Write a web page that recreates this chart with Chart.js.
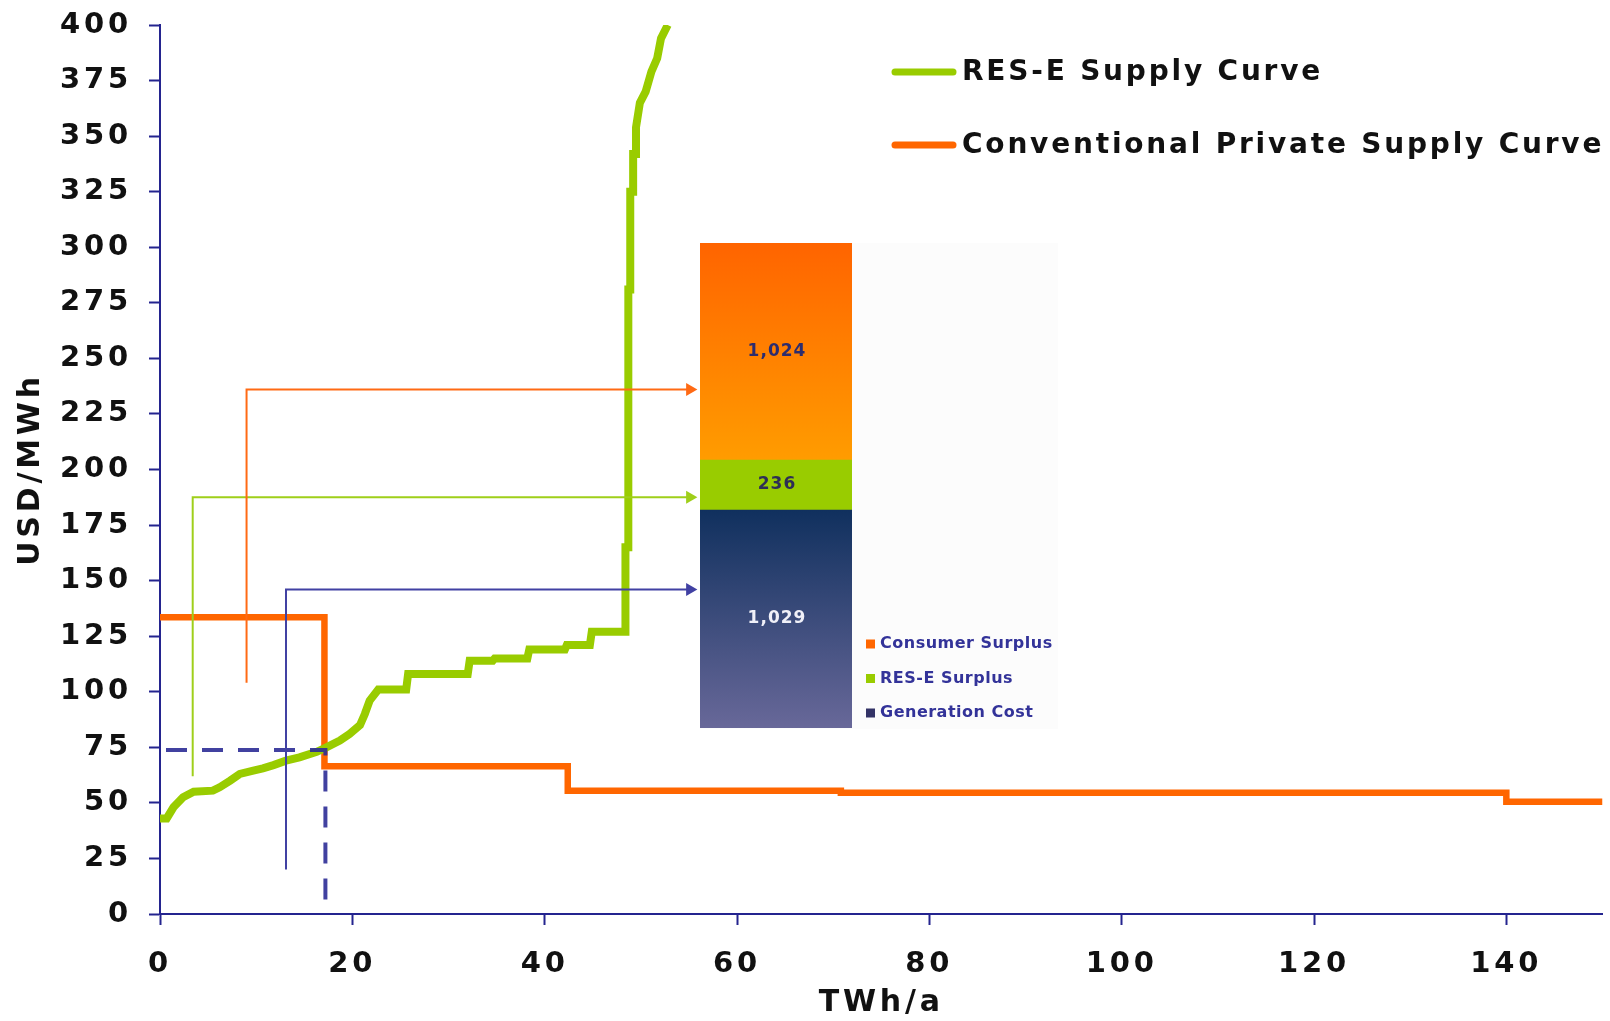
<!DOCTYPE html>
<html>
<head>
<meta charset="utf-8">
<title>RES-E and conventional supply curves</title>
<script src="https://cdn.jsdelivr.net/npm/chart.js@4.4.1/dist/chart.umd.min.js"></script>
<style>
  html, body { margin: 0; padding: 0; background: #ffffff; }
  #wrap { position: relative; width: 1610px; height: 1021px; overflow: hidden; }
  #main { position: absolute; left: 0; top: 0; }
  #inset { position: absolute; left: 700px; top: 243px; background: #fcfcfc; }
</style>
</head>
<body>
<div id="wrap">
  <canvas id="main" width="1610" height="1021"></canvas>
  <canvas id="inset" width="358" height="486"></canvas>
</div>
<script>
// ---- data ---------------------------------------------------------------
// RES-E supply curve: cumulative potential (TWh/a) against cost (USD/MWh)
const resX = [0, 0.7, 1.4, 2.4, 3.5, 5.5, 6.2, 7.3, 8.3, 9.7, 10.7, 11.8, 13.1, 14.5, 16.3, 17.3,
              18.7, 19.7, 20.8, 21.3, 21.8, 22.7, 25.6, 25.8, 32.0, 32.2, 34.6, 34.8, 38.2, 38.4,
              42.1, 42.3, 44.7, 44.9, 48.4, 48.4, 48.7, 48.7, 48.9, 48.9, 49.2, 49.2, 49.5, 49.5,
              49.9, 50.5, 51.1, 51.7, 52.1, 52.8];
const resY = [43, 43, 48, 52.5, 55, 55.5, 57, 60, 63, 64.5, 65.5, 67, 69, 70.5, 73, 75,
              78, 81, 85, 90, 96, 101, 101, 108, 108, 114, 114, 115, 115, 119,
              119, 121, 121, 127, 127, 165, 165, 281, 281, 325, 325, 342, 342, 354,
              365, 370, 379, 385, 394, 400];

// Conventional private supply curve: each price holds until the next breakpoint
const convX = [0, 17.1, 42.4, 70.8, 140, 150];
const convY = [133.5, 66.5, 55.5, 54.5, 50.5, 50.5];

// Market clearing point of the two curves
const clearingX = 17.2;
const clearingY = 73.8;

// Leader lines from the curve areas to the summary bar (TWh/a, USD/MWh)
const leaderConsumerX = [9.0, 9.0, 55.1];
const leaderConsumerY = [104, 236, 236];
const leaderResX = [3.4, 3.4, 55.1];
const leaderResY = [62, 187.5, 187.5];
const leaderCostX = [13.1, 13.1, 55.1];
const leaderCostY = [20, 146, 146];

// Axis ticks
const xTickValues = [0, 20, 40, 60, 80, 100, 120, 140];
const yTickValues = [0, 25, 50, 75, 100, 125, 150, 175, 200, 225, 250, 275, 300, 325, 350, 375, 400];
const xMax = 150;
const yMax = 400;

// Summary bar (stack order, bottom to top)
const surplusLabels = ['Generation Cost', 'RES-E Surplus', 'Consumer Surplus'];
const surplusValues = [1029, 236, 1024];

// ---- styling ------------------------------------------------------------
const FONT = '"DejaVu Sans", "Liberation Sans", sans-serif';
const NAVY = '#24248f';
const toPoints = (xs, ys) => xs.map((x, i) => ({ x: x, y: ys[i] }));

// canvas letter spacing for the axis texts
const letterSpacingPlugin = {
  id: 'letterSpacing',
  beforeUpdate(chart, args, opts) { chart.ctx.letterSpacing = opts.value; },
  beforeDraw(chart, args, opts) { chart.ctx.letterSpacing = opts.value; }
};

// line-sample legend drawn inside the plot area, top right
const curveLegendPlugin = {
  id: 'curveLegend',
  afterDraw(chart, args, opts) {
    const ctx = chart.ctx;
    ctx.save();
    ctx.font = opts.font;
    ctx.letterSpacing = opts.letterSpacing;
    ctx.textAlign = 'left';
    ctx.textBaseline = 'middle';
    ctx.fillStyle = opts.color;
    opts.items.forEach((dsIndex, row) => {
      const ds = chart.data.datasets[dsIndex];
      const y = opts.top + row * opts.rowGap;
      ctx.strokeStyle = ds.borderColor;
      ctx.lineWidth = opts.lineWidth;
      ctx.lineCap = 'round';
      ctx.setLineDash([]);
      ctx.beginPath();
      ctx.moveTo(opts.x, y);
      ctx.lineTo(opts.x + opts.sampleWidth, y);
      ctx.stroke();
      ctx.fillText(ds.label, opts.x + opts.sampleWidth + opts.gap, y + opts.textDy);
    });
    ctx.restore();
  }
};

const leader = (xs, ys, color) => ({
  label: '',
  data: toPoints(xs, ys),
  borderColor: color,
  backgroundColor: color,
  borderWidth: 2,
  pointStyle: 'triangle',
  pointRotation: 90,
  pointBackgroundColor: color,
  pointBorderWidth: 0,
  pointRadius: c => (c.dataIndex === xs.length - 1 ? 7.5 : 0),
  order: 0
});

const tickFont = { family: FONT, size: 29, weight: 'bold' };
const titleFont = { family: FONT, size: 30, weight: 'bold' };

new Chart(document.getElementById('main'), {
  type: 'line',
  data: {
    datasets: [
      {
        label: 'RES-E Supply Curve',
        data: toPoints(resX, resY),
        borderColor: '#99cc00',
        borderWidth: 8,
        pointRadius: 0,
        tension: 0,
        order: 2
      },
      {
        label: 'Conventional Private Supply Curve',
        data: toPoints(convX, convY),
        borderColor: '#ff6600',
        borderWidth: 6.5,
        stepped: 'before',
        pointRadius: 0,
        order: 3
      },
      {
        label: '',
        data: [{ x: 0, y: clearingY }, { x: clearingX, y: clearingY }, { x: clearingX, y: 0 }],
        borderColor: 'rgba(44, 44, 150, 0.9)',
        borderWidth: 4,
        borderDash: [21, 15],
        borderDashOffset: -6,
        pointRadius: 0,
        order: 1
      },
      leader(leaderConsumerX, leaderConsumerY, '#ff6a14'),
      leader(leaderResX, leaderResY, '#9fcf1a'),
      leader(leaderCostX, leaderCostY, '#4141a3')
    ]
  },
  options: {
    responsive: false,
    animation: false,
    events: [],
    layout: { padding: { top: 25, right: 4, left: 0, bottom: 0 } },
    scales: {
      x: {
        type: 'linear',
        min: 0,
        max: xMax,
        afterBuildTicks: s => { s.ticks = xTickValues.map(v => ({ value: v })); },
        afterFit: s => { s.height = 107; s.paddingLeft = 0; s.paddingRight = 0; },
        ticks: { font: tickFont, color: '#111111', padding: 22, maxRotation: 0, autoSkip: false },
        grid: { drawOnChartArea: false, drawTicks: true, tickLength: 11, tickColor: NAVY, tickWidth: 2 },
        border: { color: NAVY, width: 2 },
        title: {
          display: true, text: 'TWh/a', color: '#111111', font: titleFont,
          padding: { top: 4, bottom: 0 }
        }
      },
      y: {
        min: 0,
        max: yMax,
        afterBuildTicks: s => { s.ticks = yTickValues.map(v => ({ value: v })); },
        afterFit: s => { s.width = 160; s.paddingTop = 0; s.paddingBottom = 0; },
        ticks: { font: tickFont, color: '#111111', padding: 17, autoSkip: false },
        grid: { drawOnChartArea: false, drawTicks: true, tickLength: 11, tickColor: NAVY, tickWidth: 2 },
        border: { color: NAVY, width: 2 },
        title: {
          display: true, text: 'USD/MWh', color: '#111111', font: titleFont,
          padding: { top: 13, bottom: 0 }
        }
      }
    },
    plugins: {
      legend: { display: false },
      tooltip: { enabled: false },
      letterSpacing: { value: '3.8px' },
      curveLegend: {
        items: [0, 1],
        x: 895, sampleWidth: 58, gap: 9, top: 72, rowGap: 73, lineWidth: 7, textDy: 1,
        font: 'bold 28px ' + FONT, letterSpacing: '2.8px', color: '#111111'
      }
    }
  },
  plugins: [letterSpacingPlugin, curveLegendPlugin]
});

// ---- summary bar --------------------------------------------------------
const surplusTotal = surplusValues.reduce((a, b) => a + b, 0);
const surplusStarts = surplusValues.map((v, i) => surplusValues.slice(0, i).reduce((a, b) => a + b, 0));
const segmentStyle = [
  { top: '#10305e', bottom: '#686899', text: '#f0f0f8', swatch: '#333366' },
  { top: '#99cc00', bottom: '#99cc00', text: '#2e2e55', swatch: '#99cc00' },
  { top: '#ff6400', bottom: '#ff9c00', text: '#2c2c6e', swatch: '#ff6600' }
];

const segmentLabelPlugin = {
  id: 'segmentLabels',
  afterDatasetsDraw(chart, args, opts) {
    const ctx = chart.ctx;
    ctx.save();
    ctx.font = opts.font;
    ctx.letterSpacing = opts.letterSpacing;
    ctx.textAlign = 'center';
    ctx.textBaseline = 'middle';
    chart.data.datasets.forEach((ds, i) => {
      const el = chart.getDatasetMeta(i).data[0];
      const p = el.getCenterPoint();
      ctx.fillStyle = segmentStyle[i].text;
      ctx.fillText(ds.data[0].toLocaleString('en-US'), p.x + opts.shift, p.y);
    });
    ctx.restore();
  }
};

const swatchLegendPlugin = {
  id: 'swatchLegend',
  afterDraw(chart, args, opts) {
    const ctx = chart.ctx;
    const area = chart.chartArea;
    ctx.save();
    ctx.font = opts.font;
    ctx.letterSpacing = opts.letterSpacing;
    ctx.textAlign = 'left';
    ctx.textBaseline = 'middle';
    const n = chart.data.datasets.length;
    for (let row = 0; row < n; row++) {
      const i = n - 1 - row;
      const y = opts.top + row * opts.rowGap;
      const x = area.right + opts.offset;
      ctx.fillStyle = segmentStyle[i].swatch;
      ctx.fillRect(x, y - opts.box / 2, opts.box, opts.box);
      ctx.fillStyle = opts.color;
      ctx.fillText(chart.data.datasets[i].label, x + opts.box + opts.gap, y);
    }
    ctx.restore();
  }
};

new Chart(document.getElementById('inset'), {
  type: 'bar',
  data: {
    labels: ['Total'],
    datasets: surplusLabels.map((lab, i) => ({
      label: lab,
      data: [surplusValues[i]],
      stack: 'welfare',
      borderWidth: 0,
      barPercentage: 1,
      categoryPercentage: 1,
      backgroundColor: c => {
        const st = segmentStyle[i];
        const yScale = c.chart.scales.y;
        if (!yScale) return st.bottom;
        const top = yScale.getPixelForValue(surplusStarts[i] + surplusValues[i]);
        const bottom = yScale.getPixelForValue(surplusStarts[i]);
        if (!isFinite(top) || !isFinite(bottom) || top === bottom) return st.bottom;
        const g = c.chart.ctx.createLinearGradient(0, top, 0, bottom);
        g.addColorStop(0, st.top);
        g.addColorStop(1, st.bottom);
        return g;
      }
    }))
  },
  options: {
    responsive: false,
    animation: false,
    events: [],
    layout: { padding: { top: 0, right: 206, left: 0, bottom: 1 } },
    scales: {
      x: { display: false, stacked: true },
      y: { display: false, stacked: true, min: 0, max: surplusTotal }
    },
    plugins: {
      legend: { display: false },
      tooltip: { enabled: false },
      segmentLabels: { font: 'bold 17px ' + FONT, letterSpacing: '1px', shift: 1 },
      swatchLegend: {
        font: 'bold 16px ' + FONT, letterSpacing: '0.5px', color: '#333399',
        offset: 14, box: 9, gap: 5, top: 401, rowGap: 34.5
      }
    }
  },
  plugins: [segmentLabelPlugin, swatchLegendPlugin]
});
</script>
</body>
</html>
